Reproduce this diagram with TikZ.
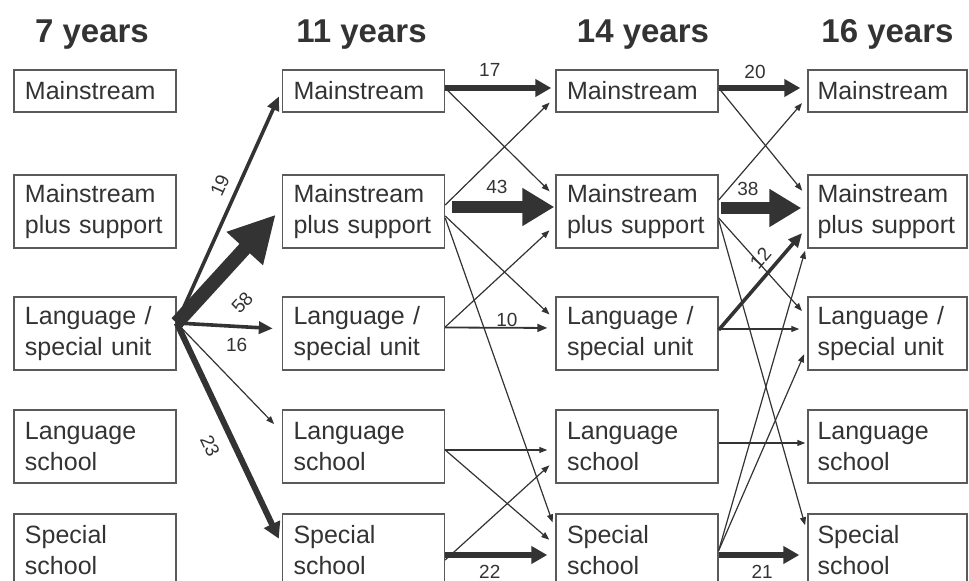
\documentclass[tikz,border=0pt]{standalone}
\usepackage{fontspec}
\setmainfont{Liberation Sans}
\usetikzlibrary{arrows.meta,positioning}

\definecolor{ink}{HTML}{333333}
\definecolor{frame}{HTML}{5A5A5A}

\tikzset{
  school/.style={draw=frame, line width=0.7pt, text=ink, align=left,
    text width=70pt, inner xsep=5.5pt, inner ysep=0pt, minimum height=36.5pt,
    font=\fontsize{12.5}{15.5}\selectfont},
  oneline/.style={minimum height=21pt},
  lastcol/.style={inner xsep=4.75pt},
  yearhead/.style={text=ink, inner sep=0pt, font=\bfseries\fontsize{16.5}{19}\selectfont},
  num/.style={text=ink, inner sep=1pt, font=\fontsize{9.5}{10}\selectfont},
  flow/.style={draw=ink, line width=0.6pt, -{Triangle[length=4pt,width=3pt]}, shorten >=4pt},
  weak/.style={flow, line width=0.9pt, -{Triangle[length=5pt,width=4pt]}},
  medium/.style={flow, line width=1.8pt, -{Triangle[length=7pt,width=6pt]}},
  strong/.style={flow, line width=3pt, -{Triangle[length=8pt,width=8.5pt]}},
  heavy/.style={flow, line width=6pt, -{Triangle[length=16pt,width=18pt]}},
  massive/.style={flow, line width=7pt, -{Triangle[length=23pt,width=23pt]}}
}

\begin{document}
\begin{tikzpicture}[x=0.5pt, y=-0.5pt]

  \clip[use as bounding box] (0,0) rectangle (969,581);

  % The boxes
  \node[school, oneline] (m1) at (95,91) {Mainstream};
  \node[school] (p1) at (95,211.5) {Mainstream\\plus support};
  \node[school] (u1) at (95,333.5) {Language /\\special unit};
  \node[school] (l1) at (95,446.5) {Language\\school};
  \node[school] (s1) at (95,550.5) {Special\\school};

  \node[school, oneline] (m2) at (363.5,91) {Mainstream};
  \node[school] (p2) at (363.5,211.5) {Mainstream\\plus support};
  \node[school] (u2) at (363.5,333.5) {Language /\\special unit};
  \node[school] (l2) at (363.5,446.5) {Language\\school};
  \node[school] (s2) at (363.5,550.5) {Special\\school};

  \node[school, oneline] (m3) at (637,91) {Mainstream};
  \node[school] (p3) at (637,211.5) {Mainstream\\plus support};
  \node[school] (u3) at (637,333.5) {Language /\\special unit};
  \node[school] (l3) at (637,446.5) {Language\\school};
  \node[school] (s3) at (637,550.5) {Special\\school};

  \node[school, oneline, lastcol] (m4) at (887.5,91) {Mainstream};
  \node[school, lastcol] (p4) at (887.5,211.5) {Mainstream\\plus support};
  \node[school, lastcol] (u4) at (887.5,333.5) {Language /\\special unit};
  \node[school, lastcol] (l4) at (887.5,446.5) {Language\\school};
  \node[school, lastcol] (s4) at (887.5,550.5) {Special\\school};

  % The headings
  \node[yearhead, above=10pt of m1, xshift=-1.5pt] (h7) {7 years};
  \node[yearhead, above=10pt of m2, xshift=-1pt] (h11) {11 years};
  \node[yearhead, above=10pt of m3, xshift=3pt] (h14) {14 years};
  \node[yearhead, above=10pt of m4] (h16) {16 years};

  % From 7 to 11 years
  \coordinate (fan) at ([yshift=5.25pt]u1.east);
  \draw[medium, shorten >=3.5pt] (fan) -- ([yshift=0.5pt]m2.west) node[num, pos=0.56, sloped, above=3.3pt] {19};
  \draw[massive, shorten >=4.5pt] (fan) -- ([yshift=1.75pt]p2.west) node[num, pos=0.38, sloped, below=9.5pt] {58};
  \draw[medium, shorten >=4.5pt] (fan) -- ([yshift=2.25pt]u2.west) node[num, pos=0.57, below=3.8pt] {16};
  \draw[flow, shorten >=5.5pt] (fan) -- ([yshift=7.25pt]l2.west);
  \draw[strong, shorten >=3.5pt] (fan) -- ([yshift=2.75pt]s2.west) node[num, pos=0.51, sloped, below=5.3pt] {23};

  % From 11 to 14 years
  \draw[strong, shorten >=2pt] ([yshift=1.5pt]m2.east) -- ([yshift=1.5pt]m3.west) node[num, pos=0.405, above=3.3pt] {17};
  \draw[flow] ([yshift=1.5pt]m2.east) -- ([yshift=7.25pt]p3.west);
  \draw[flow] ([yshift=3.25pt]p2.east) -- ([yshift=-3pt]m3.west);
  \draw[heavy, shorten <=3.5pt, shorten >=0.5pt] ([yshift=2.25pt]p2.east) -- ([yshift=2.25pt]p3.west) node[num, pos=0.47, above=2.8pt] {43};
  \draw[flow] ([yshift=-2.25pt]p2.east) -- ([yshift=6.75pt]u3.west);
  \draw[flow] ([yshift=-3.25pt]p2.east) -- ([yshift=10.25pt]s3.west);
  \draw[flow] ([yshift=3.25pt]u2.east) -- ([yshift=-6.75pt]p3.west);
  \draw[weak] ([yshift=3pt]u2.east) -- ([yshift=2.75pt]u3.west) node[num, pos=0.56, above, inner sep=0pt] {10};
  \draw[flow] ([yshift=-1.75pt]l2.east) -- ([yshift=-1.75pt]l3.west);
  \draw[flow] ([yshift=-1.75pt]l2.east) -- ([yshift=2.75pt]s3.west);
  \draw[flow] ([yshift=-4.75pt]s2.east) -- ([yshift=-6.75pt]l3.west);
  \draw[strong] ([yshift=-2.25pt]s2.east) -- ([yshift=-2.25pt]s3.west) node[num, pos=0.405, below=2.8pt] {22};

  % From 14 to 16 years
  \draw[strong, shorten >=3.5pt] ([yshift=1.5pt]m3.east) -- ([yshift=1.5pt]m4.west) node[num, pos=0.41, above=2.3pt] {20};
  \draw[flow] ([yshift=1.5pt]m3.east) -- ([yshift=7.25pt]p4.west);
  \draw[flow] ([yshift=5.75pt]p3.east) -- ([yshift=-3pt]m4.west);
  \draw[heavy, shorten <=1pt, shorten >=3pt] ([yshift=1.75pt]p3.east) -- ([yshift=1.75pt]p4.west) node[num, pos=0.33, above=2.3pt] {38};
  \draw[flow] ([yshift=-3.25pt]p3.east) -- ([yshift=8.25pt]u4.west);
  \draw[flow] ([yshift=-4.25pt]p3.east) -- ([yshift=8.75pt]s4.west);
  \draw[medium] ([yshift=1.75pt]u3.east) -- ([yshift=-7.75pt]p4.west) node[num, pos=0.6, sloped, above=2.3pt] {12};
  \draw[flow] ([yshift=2.25pt]u3.east) -- ([yshift=2.25pt]u4.west);
  \draw[flow, shorten >=1pt] ([yshift=1.75pt]l3.east) -- ([yshift=1.75pt]l4.west);
  \draw[flow] (s3.east) -- ([yshift=-15.75pt]p4.west);
  \draw[flow] (s3.east) -- ([yshift=-6.75pt]u4.west);
  \draw[strong] ([yshift=-2.25pt]s3.east) -- ([yshift=-2.25pt]s4.west) node[num, pos=0.49, below=2.8pt] {21};

\end{tikzpicture}
\end{document}
